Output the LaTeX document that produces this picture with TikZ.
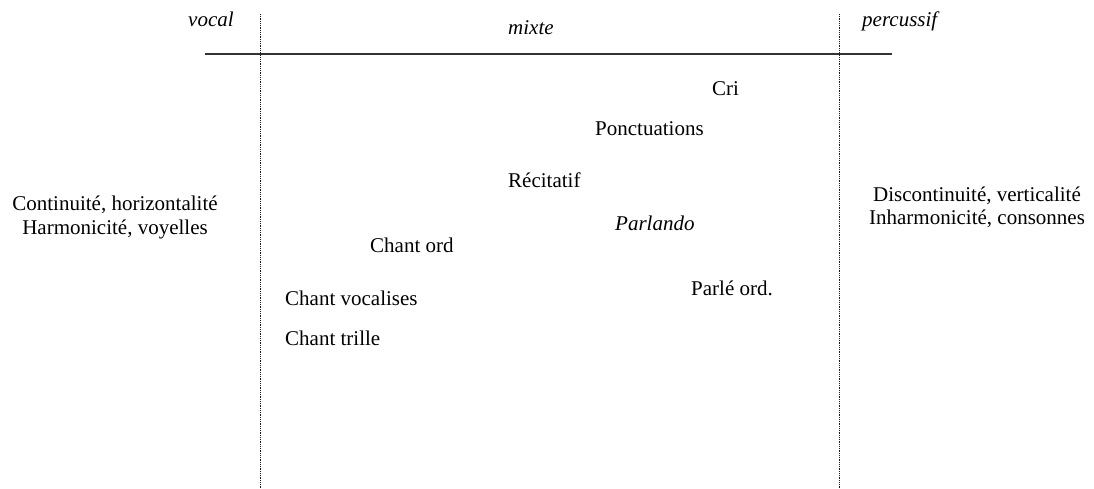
\documentclass[tikz,border=0pt]{standalone}
\usepackage{fontspec}
\setmainfont{Liberation Serif}
\begin{document}
\begin{tikzpicture}[x=1pt,y=-1pt,
  lbl/.style={inner sep=0pt,anchor=base west,font=\fontsize{21}{23}\selectfont},
  blk/.style={inner sep=0pt,anchor=base,align=center,font=\fontsize{21}{23}\selectfont},
  hdr/.style={inner sep=0pt,anchor=base west,font=\fontsize{21}{23}\selectfont\itshape},
  sep/.style={draw=black!90,line width=1pt,dash pattern=on 1pt off 0.8pt},
  axis/.style={draw=black!80,line width=1.2pt}]
\useasboundingbox (0,0) rectangle (1094,489);
% separators
\coordinate (ltop) at (260,14);
\coordinate (lbot) at (260,489);
\coordinate (rtop) at (839,14);
\coordinate (rbot) at (839,489);
\coordinate (hl) at (205,54);
\coordinate (hr) at (892,54);
\draw[axis] (hl) -- (hr);
\draw[sep] (ltop) -- (lbot);
\draw[sep] (rtop) -- (rbot);
% headers
\node[hdr] (vocal) at (188,27) {vocal};
\node[hdr] (mixte) at (508,35) {mixte};
\node[hdr] (perc) at (862,27) {percussif};
% side blocks
\node[blk] (left1) at (115,211) {Continuité, horizontalité};
\node[blk] (left2) at (115,234) {Harmonicité, voyelles};
\node[blk] (right1) at (977,201) {Discontinuité, verticalité};
\node[blk] (right2) at (977,224) {Inharmonicité, consonnes};
% labels
\node[lbl] (cri) at (712,96) {Cri};
\node[lbl] (ponct) at (595,136) {Ponctuations};
\node[lbl] (recit) at (508,188) {Récitatif};
\node[lbl,font=\fontsize{21}{23}\selectfont\itshape] (parlando) at (615,230) {Parlando};
\node[lbl] (chantord) at (370,252) {Chant ord};
\node[lbl] (parleord) at (691,295) {Parlé ord.};
\node[lbl] (vocalises) at (285,305) {Chant vocalises};
\node[lbl] (trille) at (285,345) {Chant trille};
\end{tikzpicture}
\end{document}
